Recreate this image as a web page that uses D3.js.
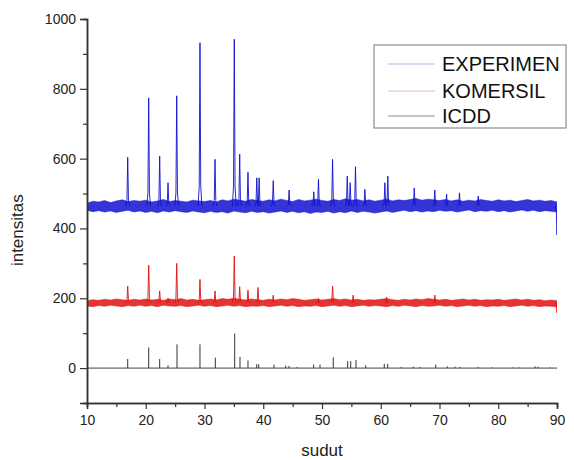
<!DOCTYPE html>
<html><head><meta charset="utf-8">
<script src="https://cdn.jsdelivr.net/npm/d3@7"></script>
<style>html,body{margin:0;padding:0;background:#fff}svg{display:block}</style>
</head><body>
<svg id="chart" width="574" height="460"></svg>
<script>
// ---------- data ----------
const seriesNames = ["EXPERIMEN", "KOMERSIL", "ICDD"];
const xTicks = [10, 20, 30, 40, 50, 60, 70, 80, 90];
const yTicks = [0, 200, 400, 600, 800, 1000];

// noise band sampled every 1 degree from 10 to 90 (upper / lower edge)
const gridAngles = d3.range(10, 91, 1);
const expHi = [472,478,476,480,474,479,482,477,480,478, 481,476,479,483,477,480,478,476,481,479,
               477,480,476,482,479,484,481,478,483,480, 478,482,479,484,480,477,483,479,481,484,
               480,478,483,480,485,481,483,479,482,478, 481,484,479,482,480,483,486,481,484,482,
               480,483,479,482,478,481,479,483,480,478, 482,479,481,477,480,483,479,481,478,480, 476];
const expLo = [452,448,451,447,450,446,449,452,447,450, 446,449,445,450,447,451,448,446,450,447,
               445,449,446,448,444,450,447,445,449,446, 448,444,447,450,446,449,445,448,443,447,
               446,449,444,448,445,450,446,449,447,444, 447,450,446,449,452,448,451,447,450,448,
               452,449,451,447,450,453,448,451,449,452, 448,451,447,450,453,449,452,448,451,449, 447];
const komHi = [193,196,194,197,195,198,196,194,197,195, 198,195,197,194,198,196,199,195,197,194,
               196,198,195,199,197,200,197,195,198,196, 194,197,195,198,196,199,197,194,196,198,
               195,197,199,196,198,195,197,194,196,195, 197,199,196,194,197,195,198,196,199,197,
               195,197,194,196,198,195,197,194,196,195, 197,194,196,198,195,197,194,196,193,195, 193];
const komLo = [178,176,179,177,180,178,176,179,177,180, 177,179,176,180,178,177,179,176,178,180,
               177,179,176,178,180,177,179,176,178,177, 179,176,178,180,177,179,176,178,177,179,
               176,178,180,177,179,176,178,180,177,179, 178,176,179,177,180,178,176,179,177,178,
               180,177,179,176,178,180,177,179,176,178, 177,179,176,178,180,177,179,176,178,177, 175];

// peaks: angle (2θ) and intensity at the tip
const expPeakAngles = [16.93,20.50,22.37,23.79,25.27,29.23,31.79,35.07,35.99,37.40,38.90,39.30,41.70,44.40,
                       48.60,49.40,51.80,54.30,54.80,55.70,57.30,60.70,61.20,65.70,69.20,71.20,73.40,76.60,90.0];
const expPeakValues = [604,774,607,531,780,932,598,942,613,561,545,545,537,510,
                       505,541,598,550,531,577,512,531,550,516,510,498,502,493,381];
const komPeakAngles = [16.93,20.50,22.37,23.79,25.27,29.23,31.79,35.07,35.99,37.40,39.10,41.70,49.40,51.80,55.30,61.00,69.20,90.0];
const komPeakValues = [235,295,221,200,300,254,221,321,233,223,231,209,200,235,209,203,209,158];
const icddAngles = [16.93,20.50,22.37,23.79,25.32,29.23,31.84,35.14,36.04,37.40,38.89,39.23,41.83,43.82,44.38,45.74,
                    48.59,49.66,51.92,54.37,54.89,55.79,57.44,60.60,61.18,63.45,65.54,66.68,69.35,71.33,72.64,73.49,
                    76.60,78.89,82.51,83.53,86.26,86.77,88.81];
const icddValues = [26,59,26,8,68,68,30,99,32,22,11,11,10,7,6,3,
                    10,10,31,20,20,23,8,12,12,3,4,3,10,5,4,3,
                    3,2,2,2,5,4,2];
const expBase = 464, komBase = 187;

// ---------- drawing ----------
const svg = d3.select("#chart");
const x = d3.scaleLinear().domain([10, 90]).range([87, 557]);
const y = d3.scaleLinear().domain([-100, 1000]).range([403, 19]);
const font = "'Liberation Sans', Arial, sans-serif";
const blue = "#1010d0", red = "#e01010";

svg.append("clipPath").attr("id", "clip").append("rect")
  .attr("x", x(10)).attr("y", 0).attr("width", x(90) - x(10)).attr("height", 460);
const plot = svg.append("g").attr("clip-path", "url(#clip)");

function band(hi, lo, color) {
  const pts = gridAngles.map((a, i) => ({a, hi: hi[i], lo: lo[i]}));
  plot.append("path").datum(pts)
    .attr("d", d3.area().x(d => x(d.a)).y0(d => y(d.lo)).y1(d => y(d.hi)))
    .attr("fill", color).attr("fill-opacity", 0.85);
  plot.append("path").datum(pts)
    .attr("d", d3.line().x(d => x(d.a)).y(d => y(d.hi)))
    .attr("fill", "none").attr("stroke", color).attr("stroke-width", 0.8).attr("stroke-opacity", 0.6);
  plot.append("path").datum(pts)
    .attr("d", d3.line().x(d => x(d.a)).y(d => y(d.lo)))
    .attr("fill", "none").attr("stroke", color).attr("stroke-width", 0.8).attr("stroke-opacity", 0.6);
}
function peaks(angles, values, base, color) {
  const w = 0.13;
  plot.append("g").selectAll("path").data(angles.map((a, i) => ({a, v: values[i]})))
    .join("path")
    .attr("d", d => d3.line()([[x(d.a - w * 2.5), y(base)], [x(d.a - w), y(base + (d.v - base) * 0.12)], [x(d.a), y(d.v)], [x(d.a + w), y(base + (d.v - base) * 0.12)], [x(d.a + w * 2.5), y(base)]]))
    .attr("fill", "none").attr("stroke", color).attr("stroke-width", 1).attr("stroke-opacity", 0.9);
}
band(expHi, expLo, blue);
peaks(expPeakAngles, expPeakValues, expBase, blue);
band(komHi, komLo, red);
peaks(komPeakAngles, komPeakValues, komBase, red);

// ICDD sticks
plot.append("line").attr("x1", x(10)).attr("x2", x(90)).attr("y1", y(0)).attr("y2", y(0))
  .attr("stroke", "#444").attr("stroke-width", 1);
plot.append("g").selectAll("line").data(icddAngles.map((a, i) => ({a, v: icddValues[i]})))
  .join("line")
  .attr("x1", d => x(d.a)).attr("x2", d => x(d.a))
  .attr("y1", y(0)).attr("y2", d => y(d.v))
  .attr("stroke", "#333").attr("stroke-width", 1);

// axes
const axisColor = "#333";
const gy = svg.append("g").attr("transform", `translate(${x(10)},0)`);
gy.call(d3.axisLeft(y).tickValues(d3.range(-100, 1001, 100).filter(v => !yTicks.includes(v))).tickSize(4).tickFormat(""));
gy.call(g => g.append("g").call(d3.axisLeft(y).tickValues(yTicks).tickSize(7).tickPadding(4).tickFormat(d3.format("d"))));
const gx = svg.append("g").attr("transform", `translate(0,${y(-100)})`);
gx.call(d3.axisBottom(x).tickValues(d3.range(15, 90, 10)).tickSize(4).tickFormat(""));
gx.call(g => g.append("g").call(d3.axisBottom(x).tickValues(xTicks).tickSize(6).tickPadding(6).tickFormat(d3.format("d"))));
svg.selectAll(".domain").attr("stroke", axisColor).attr("stroke-width", 1.5);
svg.selectAll(".tick line").attr("stroke", axisColor).attr("stroke-width", 1.2);
svg.selectAll(".tick text").attr("font-family", font).attr("font-size", 14).attr("fill", "#222");

svg.append("text").attr("x", x(50)).attr("y", 456).attr("text-anchor", "middle")
  .attr("font-family", font).attr("font-size", 17).attr("fill", "#222").text("sudut");
svg.append("text").attr("transform", `translate(23,${y(395)}) rotate(-90)`).attr("text-anchor", "middle")
  .attr("font-family", font).attr("font-size", 17).attr("fill", "#222").text("intensitas");

// legend
const legend = svg.append("g");
legend.append("rect").attr("x", 374).attr("y", 45).attr("width", 192).attr("height", 83)
  .attr("fill", "#fff").attr("stroke", "#777").attr("stroke-width", 1);
const legColors = ["#b8b8e6", "#e2bcbc", "#8c8c9a"];
const legY = [64, 91, 116];
seriesNames.forEach((n, i) => {
  legend.append("line").attr("x1", 388).attr("x2", 435).attr("y1", legY[i]).attr("y2", legY[i])
    .attr("stroke", legColors[i]).attr("stroke-width", 1.2);
  legend.append("text").attr("x", 442).attr("y", legY[i]).attr("dy", "0.35em")
    .attr("font-family", font).attr("font-size", 20).attr("fill", "#111").text(n);
});
</script>
</body></html>
